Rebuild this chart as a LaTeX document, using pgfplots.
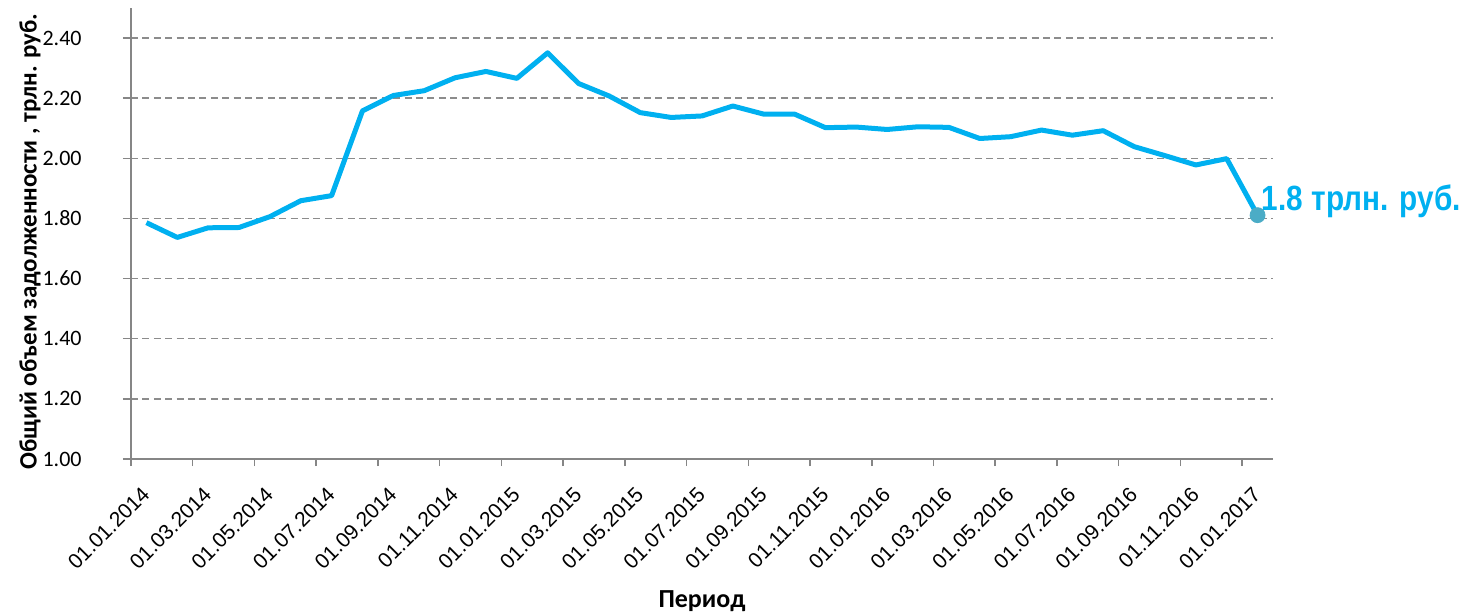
\documentclass[border=0pt]{standalone}
\usepackage{fontspec}
\setmainfont{Carlito}
\newfontfamily\arialfont{Liberation Sans}
\newfontfamily\annfont[FakeStretch=0.85]{Liberation Sans}
\usepackage{pgfplots}
\pgfplotsset{compat=1.18}

\definecolor{linecol}{HTML}{00B0F0}
\definecolor{dotcol}{HTML}{4BACC6}
\definecolor{gridcol}{HTML}{8C8C8C}
\definecolor{axcol}{HTML}{868686}

\newcommand\dt[1]{\mbox{\arialfont\fontsize{10.5}{11}\selectfont #1}}

\pgfplotstableread{
x y
0 1.786
1 1.737
2 1.769
3 1.770
4 1.806
5 1.859
6 1.876
7 2.158
8 2.209
9 2.225
10 2.268
11 2.289
12 2.266
13 2.351
14 2.249
15 2.207
16 2.152
17 2.136
18 2.141
19 2.174
20 2.147
21 2.147
22 2.102
23 2.104
24 2.096
25 2.105
26 2.103
27 2.066
28 2.072
29 2.094
30 2.077
31 2.092
32 2.039
33 2.009
34 1.978
35 1.999
36 1.811
}\debt

\begin{document}
\begin{tikzpicture}
\begin{axis}[
    scale only axis,
    width=571pt, height=225.5pt,
    xmin=-0.5, xmax=36.5,
    ymin=1.0, ymax=2.5,
    axis lines*=left,
    axis line style={axcol, line width=0.75pt},
    ytick={1.0,1.2,1.4,1.6,1.8,2.0,2.2,2.4},
    yticklabels={1.00,1.20,1.40,1.60,1.80,2.00,2.20,2.40},
    yticklabel style={font=\fontsize{11}{12}\selectfont, text=black, anchor=east, inner sep=0pt},
    yticklabel shift=20.5pt,
    ymajorgrids,
    major grid style={gridcol, line width=0.75pt, dash pattern=on 3.5pt off 2.2pt},
    tick align=outside,
    major tick length=4pt,
    tick style={axcol, line width=0.75pt},
    xtick={0,2,...,36},
    xticklabels={\dt{01.01.2014},\dt{01.03.2014},\dt{01.05.2014},\dt{01.07.2014},\dt{01.09.2014},\dt{01.11.2014},\dt{01.01.2015},\dt{01.03.2015},\dt{01.05.2015},\dt{01.07.2015},\dt{01.09.2015},\dt{01.11.2015},\dt{01.01.2016},\dt{01.03.2016},\dt{01.05.2016},\dt{01.07.2016},\dt{01.09.2016},\dt{01.11.2016},\dt{01.01.2017}},
    x tick style={draw=none},
    xticklabel style={rotate=45, anchor=north east, inner sep=0pt, text=black, xshift=-2.1pt, yshift=2.1pt},
    xticklabel shift=9pt,
    extra x ticks={-0.5,1.5,...,35.5},
    extra x tick labels={},
    extra x tick style={grid=none, x tick style={draw=axcol, line width=0.75pt}, major tick length=3.5pt},
    ylabel={Общий объем задолженности , трлн. руб.},
    ylabel style={font=\bfseries\fontsize{12.5}{14}\selectfont, at={(rel axis cs:0,0.5)}, anchor=center, yshift=50.5pt, xshift=-4pt},
    xlabel={Период},
    xlabel style={font=\bfseries\fontsize{13}{14}\selectfont, at={(rel axis cs:0.5,0)}, anchor=center, yshift=-71pt},
    clip=false,
]
\addplot[linecol, line width=2.5pt, line join=round, mark=none] table[x=x, y=y] {\debt};
\addplot[only marks, mark=*, mark size=3.75pt, mark options={fill=dotcol, draw=dotcol}] coordinates {(36,1.811)}
    node[anchor=base west, xshift=2pt, yshift=2.5pt, text=linecol, font=\annfont\bfseries\fontsize{17.5}{18}\selectfont, inner sep=0pt] {1.8 трлн. руб.};
\coordinate (O) at (rel axis cs:0,0);
\end{axis}
\pgfresetboundingbox
\path (O) ++(-65.5pt,-76.5pt) rectangle ++(734pt,306pt);
\end{tikzpicture}
\end{document}
